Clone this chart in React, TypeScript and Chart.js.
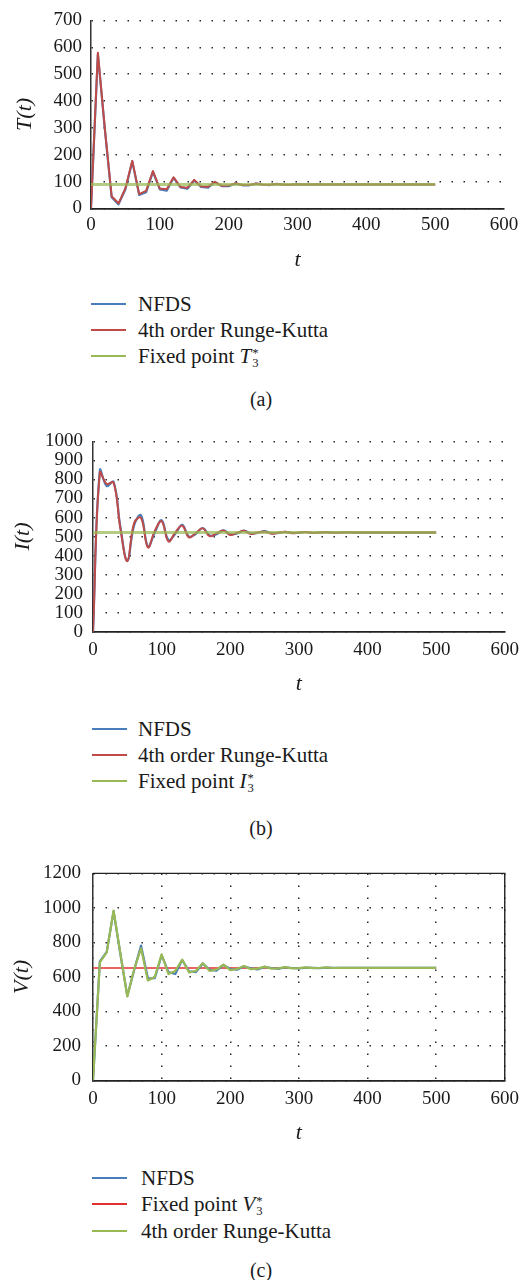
import React, { useEffect, useRef } from 'react';
import { Chart, registerables } from 'chart.js';
Chart.register(...registerables);

// ---------- data ----------
const tValues = [0, 10, 20, 30, 40, 50, 60, 70, 80, 90, 100, 110, 120, 130, 140, 150, 160, 170, 180, 190, 200, 210, 220, 230, 240, 250, 260, 270, 280, 290, 300, 310, 320, 330, 340, 350, 360, 370, 380, 390, 400, 410, 420, 430, 440, 450, 460, 470, 480, 490, 500];
const fixedT = [0, 500];

const T_NFDS = [0, 574, 298, 42, 15, 71, 175, 50, 60, 136, 71, 66, 114, 78, 73, 104, 80, 77, 98, 83, 83, 93, 86, 86, 92, 88, 87, 91, 88, 88, 90, 89, 89, 89, 89, 89, 89, 89, 89, 89, 89, 89, 89, 89, 89, 89, 89, 89, 89, 89, 89];
const T_RK = [0, 580, 300, 45, 19, 75, 177, 53, 65, 139, 74, 71, 116, 80, 77, 106, 82, 81, 99, 84, 85, 94, 87, 87, 93, 88, 88, 91, 88, 88, 90, 89, 89, 90, 89, 89, 89, 89, 89, 89, 89, 89, 89, 89, 89, 89, 89, 89, 89, 89, 89];
const T_FIXED = [89, 89];

const I_NFDS = [0, 848, 765, 788, 548, 373, 560, 612, 447, 520, 586, 482, 514, 562, 500, 514, 545, 506, 512, 533, 512, 516, 531, 516, 519, 528, 518, 519, 525, 519, 520, 524, 520, 521, 523, 521, 521, 522, 521, 521, 521, 521, 521, 521, 521, 521, 521, 521, 521, 521, 521];
const I_RK = [0, 836, 776, 784, 540, 371, 572, 598, 443, 530, 580, 474, 522, 557, 495, 520, 543, 502, 517, 532, 508, 520, 530, 513, 521, 527, 515, 520, 525, 517, 521, 524, 519, 521, 523, 520, 521, 522, 521, 521, 521, 521, 521, 521, 521, 521, 521, 521, 521, 521, 521];
const I_FIXED = [521, 521];

const V_NFDS = [0, 690, 745, 980, 730, 490, 640, 782, 592, 593, 726, 628, 617, 698, 633, 628, 678, 641, 637, 670, 646, 642, 662, 650, 644, 658, 652, 647, 656, 652, 649, 654, 653, 651, 654, 653, 653, 653, 653, 653, 653, 653, 653, 653, 653, 653, 653, 653, 653, 653, 653];
const V_RK = [0, 685, 743, 985, 733, 487, 645, 766, 580, 600, 731, 617, 635, 700, 626, 635, 680, 635, 643, 672, 640, 646, 663, 645, 648, 660, 648, 650, 657, 650, 651, 655, 651, 652, 655, 652, 653, 653, 653, 653, 653, 653, 653, 653, 653, 653, 653, 653, 653, 653, 653];
const V_FIXED = [652, 652];

const X_MIN = 0;
const X_MAX = 600;
const X_STEP = 100;

// ---------- styles ----------
const FONT = "'Liberation Serif', 'Times New Roman', serif";
const TXT = '#1a1a1a';
const BLUE = '#4a7ebb';
const RED = '#be4b48';
const GREEN = '#98b954';
const GREEN_A = 'rgba(152,185,84,0.72)';
const RED_C = '#e0312f';
const DOT = '#2a2a2a';

function pts(xs: number[], ys: number[]) {
  return xs.map((x, i) => ({ x, y: ys[i] }));
}

type Series = { label: string; xs: number[]; ys: number[]; color: string; width: number; order: number; tension?: number };

type BlockProps = {
  top: number; height: number;
  plotTop: number; plotBottom: number; plotLeft: number; plotRight: number;
  yMax: number; yStep: number; yTitle: string;
  series: Series[];
  xTickPad: number; xTitlePad: number; yTickPad: number; yTitlePad: number;
  vGrid: boolean; frame: boolean;
};

function ChartBlock(p: BlockProps) {
  const ref = useRef<HTMLCanvasElement>(null);
  useEffect(() => {
    const canvas = ref.current!;
    const localBottom = p.plotBottom - p.top;
    const framePlugin = {
      id: 'frame',
      afterDatasetsDraw(chart: any) {
        if (!p.frame) return;
        const { ctx, chartArea: a } = chart;
        ctx.save();
        ctx.strokeStyle = '#222';
        ctx.lineWidth = 1.4;
        ctx.beginPath();
        ctx.moveTo(a.left, a.top);
        ctx.lineTo(a.right, a.top);
        ctx.lineTo(a.right, a.bottom);
        ctx.stroke();
        ctx.restore();
      },
    };
    const fmt = (v: any) => String(v);
    const chart = new Chart(canvas, {
      type: 'line',
      data: {
        datasets: p.series.map((s) => ({
          label: s.label,
          data: pts(s.xs, s.ys),
          borderColor: s.color,
          backgroundColor: s.color,
          borderWidth: s.width,
          pointRadius: 0,
          pointHoverRadius: 0,
          tension: s.tension ?? 0,
          order: s.order,
          fill: false,
          borderJoinStyle: 'round',
        })),
      },
      options: {
        animation: false,
        responsive: false,
        devicePixelRatio: 1,
        events: [],
        layout: { padding: { top: p.plotTop - p.top, right: 526 - p.plotRight, left: 0, bottom: 0 } },
        plugins: { legend: { display: false }, tooltip: { enabled: false } },
        scales: {
          x: {
            type: 'linear',
            min: X_MIN,
            max: X_MAX,
            ticks: { stepSize: X_STEP, padding: p.xTickPad, color: TXT, maxRotation: 0, autoSkip: false, callback: fmt, font: { family: FONT, size: 19 } },
            grid: { display: p.vGrid, drawTicks: false, color: DOT, lineWidth: 1.5 },
            border: { display: true, color: '#222', width: 1.8, dash: [1.5, 10.5] },
            title: { display: true, text: 't', color: TXT, font: { family: FONT, size: 22, style: 'italic' }, padding: { top: 0, bottom: p.xTitlePad } },
            afterFit: (scale: any) => { scale.height = p.height - localBottom; },
          },
          y: {
            type: 'linear',
            min: 0,
            max: p.yMax,
            ticks: { stepSize: p.yStep, padding: p.yTickPad, color: TXT, autoSkip: false, callback: fmt, font: { family: FONT, size: 19 } },
            grid: { display: true, drawTicks: false, color: DOT, lineWidth: 1.5 },
            border: { display: true, color: '#333', width: 1.5, dash: [1.5, 10.5] },
            title: { display: true, text: p.yTitle, color: TXT, font: { family: FONT, size: 22, style: 'italic' }, padding: { top: p.yTitlePad, bottom: 0 } },
            afterFit: (scale: any) => { scale.width = p.plotLeft; },
          },
        },
      } as any,
      plugins: [framePlugin],
    });
    return () => chart.destroy();
  }, []);
  return (
    <canvas
      ref={ref}
      width={526}
      height={p.height}
      style={{ position: 'absolute', left: 0, top: p.top, width: 526, height: p.height }}
    />
  );
}

function SupSub({ sup, sub }: { sup: string; sub: string }) {
  return (
    <span style={{ display: 'inline-block', verticalAlign: '-0.3em', lineHeight: 0.8, fontSize: '0.6em', marginLeft: 1 }}>
      <span style={{ display: 'block' }}>{sup}</span>
      <span style={{ display: 'block' }}>{sub}</span>
    </span>
  );
}

function LegendRow({ y, x0, textX, color, children }: { y: number; x0: number; textX: number; color: string; children: any }) {
  return (
    <div style={{ position: 'absolute', left: x0, top: y - 13, height: 26, display: 'flex', alignItems: 'center', fontFamily: FONT, fontSize: 21, color: TXT, whiteSpace: 'nowrap' }}>
      <div style={{ width: 35, height: 2, background: color }} />
      <span style={{ marginLeft: textX - x0 - 35, lineHeight: '26px' }}>{children}</span>
    </div>
  );
}

function Caption({ y, text }: { y: number; text: string }) {
  return (
    <div style={{ position: 'absolute', left: 0, width: 522, top: y - 13, height: 26, lineHeight: '26px', textAlign: 'center', fontFamily: FONT, fontSize: 20, color: TXT }}>
      {text}
    </div>
  );
}

export default function App() {
  return (
    <div style={{ position: 'absolute', left: 0, top: 0, width: 526, height: 1280, background: '#fff', overflow: 'hidden' }}>
      <ChartBlock
        top={0} height={280}
        plotTop={15} plotBottom={208.4} plotLeft={91} plotRight={504}
        yMax={700} yStep={100} yTitle="T(t)"
        xTickPad={5} xTitlePad={7} yTickPad={9} yTitlePad={12}
        vGrid={false} frame={false}
        series={[
          { label: 'NFDS', xs: tValues, ys: T_NFDS, color: BLUE, width: 2.2, order: 2 },
          { label: '4th order Runge-Kutta', xs: tValues, ys: T_RK, color: RED, width: 2, order: 1 },
          { label: 'Fixed point T3*', xs: fixedT, ys: T_FIXED, color: GREEN_A, width: 3, order: 0 },
        ]}
      />
      <LegendRow y={304} x0={91} textX={138} color={BLUE}>NFDS</LegendRow>
      <LegendRow y={330} x0={91} textX={138} color={RED}>4th order Runge-Kutta</LegendRow>
      <LegendRow y={356} x0={91} textX={138} color={GREEN}>Fixed point <i>T</i><SupSub sup="*" sub="3" /></LegendRow>
      <Caption y={399} text="(a)" />

      <ChartBlock
        top={420} height={290}
        plotTop={438.3} plotBottom={631.7} plotLeft={93} plotRight={505}
        yMax={1000} yStep={100} yTitle="I(t)"
        xTickPad={7} xTitlePad={13} yTickPad={10} yTitlePad={10}
        vGrid={false} frame={false}
        series={[
          { label: 'NFDS', xs: tValues, ys: I_NFDS, color: BLUE, width: 2.2, order: 2, tension: 0.4 },
          { label: '4th order Runge-Kutta', xs: tValues, ys: I_RK, color: RED, width: 2, order: 1, tension: 0.4 },
          { label: 'Fixed point I3*', xs: fixedT, ys: I_FIXED, color: GREEN_A, width: 3, order: 0 },
        ]}
      />
      <LegendRow y={729} x0={92} textX={138} color={BLUE}>NFDS</LegendRow>
      <LegendRow y={755} x0={92} textX={138} color={RED}>4th order Runge-Kutta</LegendRow>
      <LegendRow y={781} x0={92} textX={138} color={GREEN}>Fixed point <i>I</i><SupSub sup="*" sub="3" /></LegendRow>
      <Caption y={828} text="(b)" />

      <ChartBlock
        top={850} height={300}
        plotTop={865} plotBottom={1080.5} plotLeft={93} plotRight={506}
        yMax={1200} yStep={200} yTitle="V(t)"
        xTickPad={7} xTitlePad={4} yTickPad={12} yTitlePad={9}
        vGrid={true} frame={true}
        series={[
          { label: 'NFDS', xs: tValues, ys: V_NFDS, color: BLUE, width: 2.2, order: 1 },
          { label: 'Fixed point V3*', xs: fixedT, ys: V_FIXED, color: RED_C, width: 1.6, order: 2 },
          { label: '4th order Runge-Kutta', xs: tValues, ys: V_RK, color: GREEN, width: 2.2, order: 0 },
        ]}
      />
      <LegendRow y={1178} x0={92} textX={141} color={BLUE}>NFDS</LegendRow>
      <LegendRow y={1204} x0={92} textX={141} color={RED_C}>Fixed point <i>V</i><SupSub sup="*" sub="3" /></LegendRow>
      <LegendRow y={1231} x0={92} textX={141} color={GREEN}>4th order Runge-Kutta</LegendRow>
      <Caption y={1270} text="(c)" />
    </div>
  );
}
